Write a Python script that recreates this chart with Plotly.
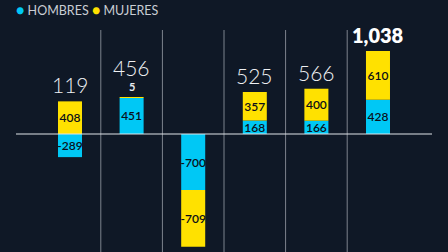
import plotly.graph_objects as go

categories = ["A", "B", "C", "D", "E", "F"]
hombres = [-289, 451, -700, 168, 166, 428]
mujeres = [408, 5, -709, 357, 400, 610]
legend_labels = ["HOMBRES", "MUJERES"]

BLUE = "#00c8f5"
YELLOW = "#ffe100"
BG = "#0f1826"
FONT = "Lato"

x = list(range(len(categories)))
totals = [h + m for h, m in zip(hombres, mujeres)]
tops = [max(h, 0) + max(m, 0) for h, m in zip(hombres, mujeres)]

fig = go.Figure()
fig.add_trace(go.Bar(
    x=x, y=hombres, name=legend_labels[0], marker=dict(color=BLUE, line=dict(width=0)),
    width=0.39, text=[str(v) for v in hombres], textposition="inside",
    insidetextanchor="middle", textangle=0,
    textfont=dict(color="#0b0f18", size=12, family=FONT, weight=600),
    showlegend=False,
))
mtext = [str(v) if abs(v) > 50 else "" for v in mujeres]
fig.add_trace(go.Bar(
    x=x, y=mujeres, name=legend_labels[1], marker=dict(color=YELLOW, line=dict(width=0)),
    width=0.39, text=mtext, textposition="inside",
    insidetextanchor="middle", textangle=0,
    textfont=dict(color="#0b0f18", size=12, family=FONT, weight=600),
    showlegend=False,
))

# small segment labels shown above bar
for i, v in enumerate(mujeres):
    if 0 < v <= 50:
        fig.add_annotation(x=i, y=tops[i], text=str(v), showarrow=False,
                           yanchor="bottom", yshift=3,
                           font=dict(color="#e8ebef", size=11, family=FONT, weight=700))

# totals
max_total = max(totals)
for i, t in enumerate(totals):
    if t <= 0:
        continue
    extra = 14 if 0 < mujeres[i] <= 50 else 0
    bold = t == max_total
    fig.add_annotation(x=i, y=tops[i], text=f"{t:,}", showarrow=False,
                       yanchor="bottom", yshift=2 + extra,
                       font=dict(color="#ffffff" if bold else "#eef0f3", size=20 if bold else 21,
                                 family=FONT, weight=800 if bold else 300))

# separators
for i in range(len(categories) - 1):
    fig.add_shape(type="line", xref="x", yref="paper", x0=i + 0.5, x1=i + 0.5,
                  y0=0, y1=1 - 30 / 252, line=dict(color="#7d838d", width=1))
# zero line
fig.add_shape(type="line", xref="paper", yref="y", x0=0, x1=1, y0=0, y1=0,
              line=dict(color="#dfe3e8", width=1.2))

# legend as text
fig.add_annotation(
    xref="paper", yref="paper", x=0, y=1, xanchor="left", yanchor="top",
    xshift=-1, yshift=0, showarrow=False, borderpad=0,
    text=(f"<span style='color:{BLUE};font-size:14px'>●</span> {legend_labels[0]} "
          f"<span style='color:{YELLOW};font-size:14px'>●</span> {legend_labels[1]}"),
    font=dict(color="#c9cdd4", size=12.5, family=FONT),
)

fig.update_layout(
    width=448, height=252, margin=dict(l=16, r=16, t=0, b=0),
    paper_bgcolor=BG, plot_bgcolor=BG, barmode="relative",
    xaxis=dict(range=[-0.877, 5.877], visible=False),
    yaxis=dict(range=[-1475, 1675], visible=False),
    uniformtext=dict(minsize=11, mode="show"),
)
fig.write_html("out.html")
